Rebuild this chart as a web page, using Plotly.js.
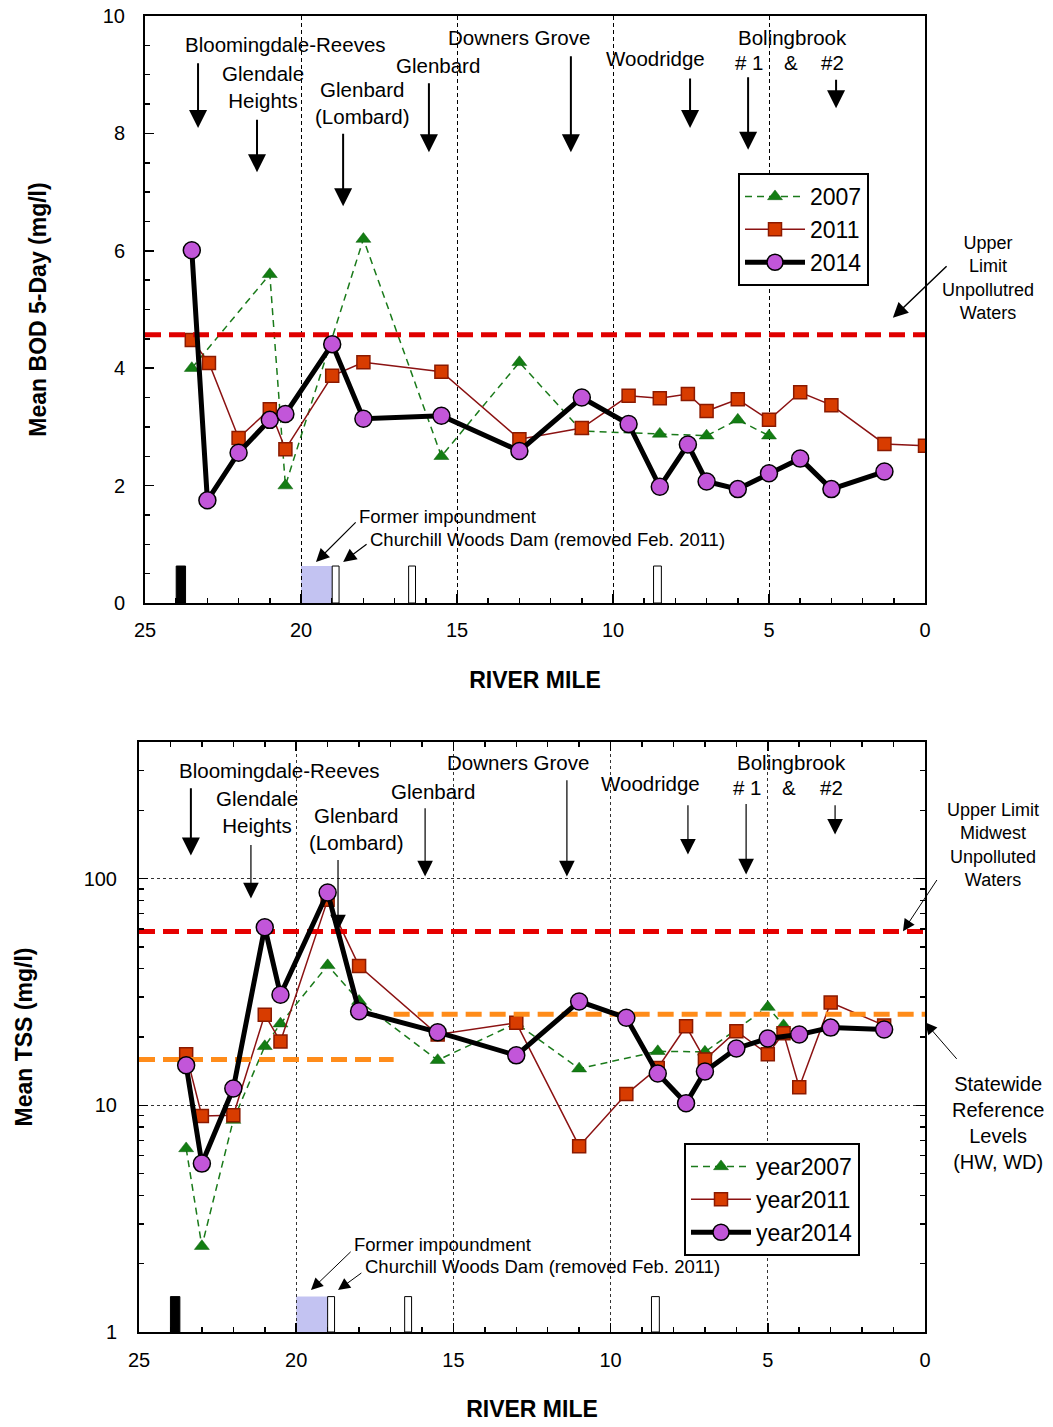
<!DOCTYPE html>
<html>
<head>
<meta charset="utf-8">
<script src="https://cdn.plot.ly/plotly-3.0.1.min.js"></script>
<style>html,body{margin:0;padding:0;background:#fff;}</style>
</head>
<body>
<div id="chart" style="width:1053px;height:1427px;"></div>
<script>
// ---------- DATA: BOD (top chart) ----------
const miles2007Bod = [23.5, 21.0, 20.5, 18.0, 15.5, 13.0, 11.0, 8.5, 7.0, 6.0, 5.0];
const bod2007      = [4.0, 5.6, 2.0, 6.2, 2.5, 4.1, 2.93, 2.88, 2.85, 3.12, 2.85];
const miles2011Bod = [23.5, 22.95, 22.0, 21.0, 20.5, 19.0, 18.0, 15.5, 13.0, 11.0, 9.5, 8.5, 7.6, 7.0, 6.0, 5.0, 4.0, 3.0, 1.3, 0.0];
const bod2011      = [4.48, 4.09, 2.81, 3.30, 2.62, 3.87, 4.10, 3.94, 2.79, 2.98, 3.53, 3.49, 3.56, 3.27, 3.47, 3.12, 3.59, 3.37, 2.71, 2.68];
const miles2014Bod = [23.5, 23.0, 22.0, 21.0, 20.5, 19.0, 18.0, 15.5, 13.0, 11.0, 9.5, 8.5, 7.6, 7.0, 6.0, 5.0, 4.0, 3.0, 1.3];
const bod2014      = [6.01, 1.75, 2.56, 3.12, 3.22, 4.41, 3.14, 3.19, 2.59, 3.50, 3.05, 1.98, 2.70, 2.07, 1.94, 2.21, 2.46, 1.94, 2.24];
const bodUpperLimit = 4.57;

// ---------- DATA: TSS (bottom chart) ----------
const miles2007Tss = [23.5, 23.0, 22.0, 21.0, 20.5, 19.0, 18.0, 15.5, 13.0, 11.0, 8.5, 7.0, 5.0, 4.5];
const tss2007      = [6.45, 2.39, 8.6, 18.2, 22.9, 41.4, 28.8, 15.8, 23.0, 14.5, 17.3, 17.2, 27.1, 22.5];
const miles2011Tss = [23.5, 23.0, 22.0, 21.0, 20.5, 19.0, 18.0, 15.5, 13.0, 11.0, 9.5, 8.5, 7.6, 7.0, 6.0, 5.0, 4.5, 4.0, 3.0, 1.3];
const tss2011      = [16.8, 8.97, 9.04, 25.1, 19.1, 80.5, 41.1, 20.5, 23.1, 6.6, 11.2, 14.6, 22.3, 15.9, 21.2, 16.8, 20.8, 12.0, 28.4, 22.5];
const miles2014Tss = [23.5, 23.0, 22.0, 21.0, 20.5, 19.0, 18.0, 15.5, 13.0, 11.0, 9.5, 8.5, 7.6, 7.0, 6.0, 5.0, 4.0, 3.0, 1.3];
const tss2014      = [15.0, 5.53, 11.85, 61.0, 30.7, 86.8, 26.0, 21.0, 16.6, 28.7, 24.3, 13.8, 10.2, 14.1, 17.8, 19.7, 20.5, 22.0, 21.6];
const tssUpperLimit = 58.4;
const tssRefMiles = [25, 16.9, 0];
const tssRefHW = 15.9;   // headwater reference (mile 25 - 16.9)
const tssRefWD = 25.2;   // wadeable reference (mile 16.9 - 0)

// ---------- DATA: river features (dams / impoundment) ----------
const damStart = [24.0, 19.0, 16.55, 8.7];
const damEnd   = [23.7, 18.78, 16.33, 8.45];
const damFilled = [true, false, false, false];
const impoundStart = 20.0, impoundEnd = 19.0;

// ---------- TEXT ----------
const xTickVals = [25, 20, 15, 10, 5, 0];
const legendNames = ['2007', '2011', '2014'];
const legendNames2 = ['year2007', 'year2011', 'year2014'];

const FONT = 'Liberation Sans, Arial, Helvetica, sans-serif';

const s2007 = {line:{color:'#1a7a1a', width:1.5, dash:'7px,5px'}, marker:{symbol:'triangle-up', size:13, color:'#137d13', line:{color:'#0d5e0d', width:0.5}}};
const s2011 = {line:{color:'#8b1212', width:1.5}, marker:{symbol:'square', size:13, color:'#d83c00', line:{color:'#8b1a00', width:1.5}}};
const s2014 = {line:{color:'#000000', width:5}, marker:{symbol:'circle', size:17, color:'#c256d9', line:{color:'#000000', width:1.5}}};

const traces = [
  Object.assign({x: miles2007Bod, y: bod2007, name: legendNames[0], mode:'lines+markers', xaxis:'x', yaxis:'y', legend:'legend'}, s2007),
  Object.assign({x: miles2011Bod, y: bod2011, name: legendNames[1], mode:'lines+markers', xaxis:'x', yaxis:'y', legend:'legend'}, s2011),
  {x:[25, 0], y:[bodUpperLimit, bodUpperLimit], mode:'lines', line:{color:'#e00000', width:5, dash:'16px,8px'}, showlegend:false, xaxis:'x', yaxis:'y', hoverinfo:'skip'},
  Object.assign({x: miles2014Bod, y: bod2014, name: legendNames[2], mode:'lines+markers', xaxis:'x', yaxis:'y', legend:'legend'}, s2014),

  Object.assign({x: miles2007Tss, y: tss2007, name: legendNames2[0], mode:'lines+markers', xaxis:'x2', yaxis:'y2', legend:'legend2'}, s2007),
  Object.assign({x: miles2011Tss, y: tss2011, name: legendNames2[1], mode:'lines+markers', xaxis:'x2', yaxis:'y2', legend:'legend2'}, s2011),
  {x:[25, 0], y:[tssUpperLimit, tssUpperLimit], mode:'lines', line:{color:'#e60000', width:5, dash:'16px,8px'}, showlegend:false, xaxis:'x2', yaxis:'y2', hoverinfo:'skip'},
  {x:[tssRefMiles[0], tssRefMiles[1]], y:[tssRefHW, tssRefHW], mode:'lines', line:{color:'#ff8c1a', width:5, dash:'16px,8px'}, showlegend:false, xaxis:'x2', yaxis:'y2', hoverinfo:'skip'},
  {x:[tssRefMiles[1], tssRefMiles[2]], y:[tssRefWD, tssRefWD], mode:'lines', line:{color:'#ff8c1a', width:5, dash:'16px,8px'}, showlegend:false, xaxis:'x2', yaxis:'y2', hoverinfo:'skip'},
  Object.assign({x: miles2014Tss, y: tss2014, name: legendNames2[2], mode:'lines+markers', xaxis:'x2', yaxis:'y2', legend:'legend2'}, s2014)
];

// ---------- shapes for dams / impoundment ----------
const shapes = [];
function addFeatures(xr, yr, h) {
  shapes.push({type:'rect', xref:xr, yref:yr, x0:impoundStart, x1:impoundEnd, y0:0, y1:h, fillcolor:'#c3c3f2', line:{width:0}, layer:'below'});
  for (let i = 0; i < damStart.length; i++) {
    shapes.push({type:'rect', xref:xr, yref:yr, x0:damStart[i], x1:damEnd[i], y0:0, y1:h,
      fillcolor: damFilled[i] ? '#000000' : '#ffffff', line:{color:'#000000', width:1}, layer:'above'});
  }
}
addFeatures('x', 'y domain', 0.063);
addFeatures('x2', 'y2 domain', 0.06);

// ---------- annotations ----------
const ann = [];
function label(xr, yr, x, y, text, size, opts) {
  ann.push(Object.assign({xref:xr, yref:yr, x:x, y:y, text:text, showarrow:false,
    font:{family:FONT, size:size, color:'#000'}, xanchor:'center', yanchor:'middle'}, opts || {}));
}
function arrow(xr, yr, x0, y0, x1, y1, w, s) {
  ann.push({xref:xr, yref:yr, axref:xr, ayref:yr, ax:x0, ay:y0, x:x1, y:y1, text:'', showarrow:true,
    arrowhead:2, arrowwidth:w, arrowsize:s, arrowcolor:'#000', standoff:0, startstandoff:0});
}
const H = 1427, W = 1053;
function px(v) { return v / W; }
function py(v) { return (H - v) / H; }

// Top chart labels
label('x','y', 20.51, 9.51, 'Bloomingdale-Reeves', 20.5);
label('x','y', 21.22, 8.79, 'Glendale<br>Heights', 20.5);
label('x','y', 18.04, 8.52, 'Glenbard<br>(Lombard)', 20.5);
label('x','y', 15.61, 9.15, 'Glenbard', 20.5);
label('x','y', 13.01, 9.64, 'Downers Grove', 20.5);
label('x','y', 8.65, 9.28, 'Woodridge', 20.5);
label('x','y', 4.26, 9.64, 'Bolingbrook', 20.5);
label('x','y', 5.61, 9.20, '# 1', 20.5);
label('x','y', 4.29, 9.20, '&amp;', 20.5);
label('x','y', 2.95, 9.20, '#2', 20.5);
label('paper','paper', px(988), py(278), 'Upper<br>Limit<br>Unpollutred<br>Waters', 18);
label('x','y', 18.2, 1.48, 'Former impoundment', 18.5, {xanchor:'left'});
label('x','y', 17.85, 1.09, 'Churchill Woods Dam (removed Feb. 2011)', 18.5, {xanchor:'left'});

arrow('x','y', 23.3, 9.22, 23.3, 8.09, 2, 1.8);
arrow('x','y', 21.41, 8.26, 21.41, 7.34, 2, 1.8);
arrow('x','y', 18.65, 8.02, 18.65, 6.76, 2, 1.8);
arrow('x','y', 15.9, 8.88, 15.9, 7.68, 2, 1.8);
arrow('x','y', 11.35, 9.34, 11.35, 7.68, 2, 1.8);
arrow('x','y', 7.53, 8.96, 7.53, 8.09, 2, 1.8);
arrow('x','y', 5.67, 8.98, 5.67, 7.72, 2, 1.8);
arrow('x','y', 2.85, 8.94, 2.85, 8.43, 2, 1.8);
arrow('x','y', -0.74, 5.76, 1.03, 4.86, 1.5, 2);
arrow('x','y', 18.2, 1.40, 19.52, 0.70, 1.2, 2.2);
arrow('x','y', 17.85, 1.02, 18.65, 0.70, 1.2, 2.2);

// Bottom chart labels (y in log10 units)
label('x2','y2', 20.52, 2.476, 'Bloomingdale-Reeves', 20.5);
label('x2','y2', 21.25, 2.295, 'Glendale<br>Heights', 20.5);
label('x2','y2', 18.07, 2.22, 'Glenbard<br>(Lombard)', 20.5);
label('x2','y2', 15.65, 2.383, 'Glenbard', 20.5);
label('x2','y2', 12.95, 2.511, 'Downers Grove', 20.5);
label('x2','y2', 8.72, 2.419, 'Woodridge', 20.5);
label('x2','y2', 4.26, 2.511, 'Bolingbrook', 20.5);
label('x2','y2', 5.63, 2.401, '# 1', 20.5);
label('x2','y2', 4.33, 2.401, '&amp;', 20.5);
label('x2','y2', 2.96, 2.401, '#2', 20.5);
label('paper','paper', px(993), py(845), 'Upper Limit<br>Midwest<br>Unpolluted<br>Waters', 18);
label('paper','paper', px(998), py(1123), 'Statewide<br>Reference<br>Levels<br>(HW, WD)', 20);
label('x2','y2', 18.22, 0.388, 'Former impoundment', 18.5, {xanchor:'left'});
label('x2','y2', 17.88, 0.291, 'Churchill Woods Dam (removed Feb. 2011)', 18.5, {xanchor:'left'});

arrow('x2','y2', 23.35, 2.405, 23.35, 2.101, 2, 1.8);
arrow('x2','y2', 21.44, 2.154, 21.44, 1.912, 1.2, 2.6);
arrow('x2','y2', 18.67, 2.088, 18.67, 1.771, 1.2, 2.6);
arrow('x2','y2', 15.9, 2.317, 15.9, 2.009, 1.2, 2.6);
arrow('x2','y2', 11.39, 2.44, 11.39, 2.009, 1.2, 2.6);
arrow('x2','y2', 7.54, 2.33, 7.54, 2.106, 1.2, 2.6);
arrow('x2','y2', 5.69, 2.335, 5.69, 2.018, 1.2, 2.6);
arrow('x2','y2', 2.86, 2.33, 2.86, 2.194, 1.2, 2.6);
arrow('x2','y2', -0.41, 2.0, 0.70, 1.767, 1, 2.4);
arrow('x2','y2', -1.05, 1.198, 0.0, 1.366, 1, 2.4);
arrow('x2','y2', 18.22, 0.36, 19.53, 0.185, 1, 2.4);
arrow('x2','y2', 17.88, 0.265, 18.67, 0.185, 1, 2.4);

const tickFont = {family:FONT, size:20, color:'#000'};
const titleFont = {family:FONT, size:23, color:'#000', weight:'bold'};

const layout = {
  width: W, height: H,
  margin: {l:0, r:0, t:0, b:0},
  paper_bgcolor:'#ffffff', plot_bgcolor:'#ffffff',
  font: {family: FONT, color:'#000'},
  showlegend: true,
  xaxis: {
    domain:[px(145), px(925)], range:[25, 0], anchor:'y',
    tickvals: xTickVals, ticks:'inside', ticklen:9, tickwidth:1.5, tickcolor:'#000',
    showline:true, linecolor:'#000', linewidth:2, mirror:true,
    showgrid:true, gridcolor:'#000', griddash:'4px,3px', gridwidth:1,
    zeroline:false, tickfont: tickFont, ticklabelstandoff: 8,
    minor:{dtick:1, tick0:0, ticks:'inside', ticklen:5, tickcolor:'#000', showgrid:false},
    title:{text:'RIVER MILE', font:titleFont, standoff:32}
  },
  yaxis: {
    domain:[py(603), py(16)], range:[0, 10], anchor:'x',
    dtick:2, tick0:0, ticks:'inside', ticklen:9, tickwidth:1.5, tickcolor:'#000',
    showline:true, linecolor:'#000', linewidth:2, mirror:true,
    showgrid:false, zeroline:false, tickfont: tickFont, ticklabelstandoff: 14,
    minor:{dtick:0.5, tick0:0, ticks:'inside', ticklen:5, tickcolor:'#000', showgrid:false},
    title:{text:'Mean BOD 5-Day (mg/l)', font:titleFont, standoff:50}
  },
  xaxis2: {
    domain:[px(139), px(925)], range:[25, 0], anchor:'y2',
    tickvals: xTickVals, ticks:'inside', ticklen:9, tickwidth:1.5, tickcolor:'#000',
    showline:true, linecolor:'#000', linewidth:2, mirror:'ticks',
    showgrid:true, gridcolor:'#333', griddash:'3px,3px', gridwidth:1,
    zeroline:false, tickfont: tickFont, ticklabelstandoff: 9,
    minor:{dtick:1, tick0:0, ticks:'inside', ticklen:5, tickcolor:'#000', showgrid:false},
    title:{text:'RIVER MILE', font:titleFont, standoff:31}
  },
  yaxis2: {
    domain:[py(1332), py(742)], type:'log', range:[0, Math.log10(400)], anchor:'x2',
    tickvals:[1, 10, 100], ticktext:['1','10','100'], ticks:'inside', ticklen:9, tickwidth:1.5, tickcolor:'#000',
    showline:true, linecolor:'#000', linewidth:2, mirror:'ticks',
    showgrid:true, gridcolor:'#333', griddash:'3px,3px', gridwidth:1,
    zeroline:false, tickfont: tickFont, ticklabelstandoff: 16,
    minor:{dtick:'D1', ticks:'inside', ticklen:5, tickcolor:'#000', showgrid:false},
    title:{text:'Mean TSS (mg/l)', font:titleFont, standoff:45}
  },
  legend: {
    x: px(738), y: py(173), xanchor:'left', yanchor:'top',
    bgcolor:'#ffffff', bordercolor:'#000', borderwidth:2,
    font:{family:FONT, size:23, color:'#000'}, traceorder:'normal', itemwidth:60
  },
  legend2: {
    x: px(684), y: py(1143), xanchor:'left', yanchor:'top',
    bgcolor:'#ffffff', bordercolor:'#000', borderwidth:2,
    font:{family:FONT, size:23, color:'#000'}, traceorder:'normal', itemwidth:60
  },
  shapes: shapes,
  annotations: ann
};

Plotly.newPlot('chart', traces, layout, {staticPlot:true, displayModeBar:false});
</script>
</body>
</html>
